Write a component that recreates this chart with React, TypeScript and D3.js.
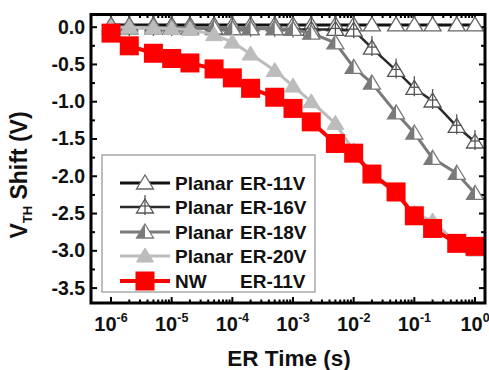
import React from "react";
import * as d3 from "d3";

const times = [1e-6, 2e-6, 5e-6, 1e-5, 2e-5, 5e-5, 1e-4, 2e-4, 5e-4, 1e-3, 2e-3, 5e-3, 1e-2, 2e-2, 5e-2, 1e-1, 2e-1, 5e-1, 1];
const planar11 = [0.03, 0.03, 0.03, 0.03, 0.03, 0.03, 0.03, 0.03, 0.03, 0.03, 0.03, 0.03, 0.03, 0.03, 0.03, 0.03, 0.03, 0.03, 0.03];
const planar16 = [-0.01, -0.01, -0.01, -0.01, -0.01, -0.02, -0.02, -0.02, -0.02, -0.03, -0.03, -0.03, -0.04, -0.28, -0.58, -0.82, -0.99, -1.33, -1.54];
const planar18 = [0.0, 0.0, 0.0, -0.01, -0.01, -0.01, -0.02, -0.02, -0.02, -0.03, -0.08, -0.21, -0.54, -0.75, -1.15, -1.42, -1.76, -1.96, -2.23];
const planar20 = [0.0, 0.0, -0.01, -0.02, -0.03, -0.1, -0.2, -0.36, -0.58, -0.79, -1.0, -1.29, -1.66, -1.96, -2.25, -2.5, -2.6, -2.9, -2.99];
const nw11 = [-0.08, -0.25, -0.35, -0.42, -0.48, -0.56, -0.68, -0.82, -0.94, -1.09, -1.27, -1.56, -1.69, -1.97, -2.21, -2.53, -2.7, -2.9, -2.94];

const yTicks = [0.0, -0.5, -1.0, -1.5, -2.0, -2.5, -3.0, -3.5];
const xDecades = [-6, -5, -4, -3, -2, -1, 0];
const legendNames = ["Planar", "Planar", "Planar", "Planar", "NW"];
const legendConds = ["ER-11V", "ER-16V", "ER-18V", "ER-20V", "ER-11V"];

const W = 489, H = 370;
const L = 91, R = 485, T = 14.5, B = 303;
const FONT = "Arial, 'Liberation Sans', Helvetica, sans-serif";

const x = d3.scaleLog().domain([Math.pow(10, -6.33), Math.pow(10, 0.165)]).range([L, R]);
const y = d3.scaleLinear().domain([-3.7, 0.17]).range([B, T]);

type MarkerKind = "open" | "plus" | "half" | "filled" | "square";

function Marker({ kind, cx, cy, color }: { kind: MarkerKind; cx: number; cy: number; color: string }) {
  const tri = `M${cx},${cy - 8}L${cx + 8.5},${cy + 6}L${cx - 8.5},${cy + 6}Z`;
  if (kind === "square") {
    return <rect x={cx - 9.5} y={cy - 9.5} width={19} height={19} fill="#ff0000" />;
  }
  if (kind === "filled") {
    return <path d={tri} fill={color} stroke={color} strokeWidth={1} />;
  }
  if (kind === "half") {
    return (
      <g>
        <path d={tri} fill="#fff" stroke={color} strokeWidth={1.3} />
        <path d={`M${cx},${cy - 8}L${cx},${cy + 6}L${cx - 8.5},${cy + 6}Z`} fill={color} />
      </g>
    );
  }
  if (kind === "plus") {
    return (
      <g>
        <path d={tri} fill="#fff" stroke={color} strokeWidth={1.3} />
        <line x1={cx} x2={cx} y1={cy - 12} y2={cy + 8} stroke={color} strokeWidth={1.3} />
        <line x1={cx - 5} x2={cx + 5} y1={cy - 1} y2={cy - 1} stroke={color} strokeWidth={1.3} />
      </g>
    );
  }
  return <path d={tri} fill="#fff" stroke={color} strokeWidth={1.3} />;
}

const series = [
  { values: planar11, line: "#111111", marker: "#666666", kind: "open" as MarkerKind, lw: 3 },
  { values: planar16, line: "#2a2a2a", marker: "#555555", kind: "plus" as MarkerKind, lw: 2.5 },
  { values: planar18, line: "#7a7a7a", marker: "#7a7a7a", kind: "half" as MarkerKind, lw: 3 },
  { values: planar20, line: "#bcbcbc", marker: "#bcbcbc", kind: "filled" as MarkerKind, lw: 3 },
  { values: nw11, line: "#ff0000", marker: "#ff0000", kind: "square" as MarkerKind, lw: 4 },
];

export default function App() {
  const line = d3
    .line<number>()
    .x((_, i) => x(times[i]))
    .y((v) => y(v));

  const minorX: number[] = [];
  xDecades.forEach((d) => {
    for (let k = 2; k <= 9; k++) {
      const v = k * Math.pow(10, d);
      if (x(v) < R - 1) minorX.push(v);
    }
  });
  const minorY = d3.range(-3.75, 0.2, 0.25).filter((v) => Math.abs((v * 2) % 1) > 0.01);

  const legendRows = [183, 207, 232, 256, 281];

  return (
    <svg width={W} height={H} style={{ position: "absolute", left: 0, top: 0, background: "#fff" }} fontFamily={FONT}>
      <rect x={0} y={0} width={W} height={H} fill="#fff" />
      {/* ticks (inward) */}
      <g stroke="#000" strokeWidth={2}>
        {yTicks.map((t) => (
          <g key={"yt" + t}>
            <line x1={L} x2={L + 6} y1={y(t)} y2={y(t)} />
            <line x1={R} x2={R - 6} y1={y(t)} y2={y(t)} />
          </g>
        ))}
        {minorY.filter((v) => y(v) > T + 2 && y(v) < B - 2).map((t) => (
          <g key={"ym" + t}>
            <line x1={L} x2={L + 4} y1={y(t)} y2={y(t)} />
            <line x1={R} x2={R - 4} y1={y(t)} y2={y(t)} />
          </g>
        ))}
        {xDecades.map((d) => (
          <g key={"xt" + d}>
            <line x1={x(Math.pow(10, d))} x2={x(Math.pow(10, d))} y1={B} y2={B - 6} />
            <line x1={x(Math.pow(10, d))} x2={x(Math.pow(10, d))} y1={T} y2={T + 6} />
          </g>
        ))}
        {minorX.map((v, i) => (
          <g key={"xm" + i}>
            <line x1={x(v)} x2={x(v)} y1={B} y2={B - 3.5} />
            <line x1={x(v)} x2={x(v)} y1={T} y2={T + 3.5} />
          </g>
        ))}
      </g>

      {/* series */}
      {series.map((s, si) => (
        <g key={"s" + si}>
          <path d={line(s.values) || ""} fill="none" stroke={s.line} strokeWidth={s.lw} strokeLinejoin="round" />
          {s.values.map((v, i) => (
            <Marker key={i} kind={s.kind} cx={x(times[i])} cy={y(v)} color={s.marker} />
          ))}
        </g>
      ))}

      {/* legend */}
      <rect x={102} y={155} width={213} height={137} fill="#fff" stroke="#a8a8a8" strokeWidth={1.5} />
      {series.map((s, si) => (
        <g key={"lg" + si}>
          <line x1={120} x2={170} y1={legendRows[si]} y2={legendRows[si]} stroke={s.line} strokeWidth={s.lw} />
          <Marker kind={s.kind} cx={145} cy={legendRows[si]} color={s.marker} />
          <text x={175} y={legendRows[si] + 7} fontSize={19} fontWeight="bold" fill="#111">
            {legendNames[si]}
          </text>
          <text x={240} y={legendRows[si] + 7} fontSize={19} fontWeight="bold" fill="#111">
            {legendConds[si]}
          </text>
        </g>
      ))}

      {/* frame */}
      <rect x={L} y={T} width={R - L} height={B - T} fill="none" stroke="#000" strokeWidth={3} />

      {/* y tick labels */}
      {yTicks.map((t) => (
        <text key={"yl" + t} x={85} y={y(t) + 6.5} textAnchor="end" fontSize={19.5} fontWeight="bold" fill="#111">
          {t === 0 ? "0.0" : t.toFixed(1)}
        </text>
      ))}
      {/* x tick labels */}
      {xDecades.map((d) => (
        <text key={"xl" + d} x={x(Math.pow(10, d))} y={331} textAnchor="middle" fontSize={20} fontWeight="bold" fill="#111">
          10
          <tspan dy={-9} fontSize={12.5}>
            {String(d)}
          </tspan>
        </text>
      ))}

      {/* axis titles */}
      <text x={289} y={366} textAnchor="middle" fontSize={22.5} fontWeight="bold" fill="#111">
        ER Time (s)
      </text>
      <text transform="translate(27,175) rotate(-90)" textAnchor="middle" fontSize={23} fontWeight="bold" fill="#111">
        V
        <tspan fontSize={13} dy={5}>TH</tspan>
        <tspan dy={-5}> Shift (V)</tspan>
      </text>
    </svg>
  );
}
